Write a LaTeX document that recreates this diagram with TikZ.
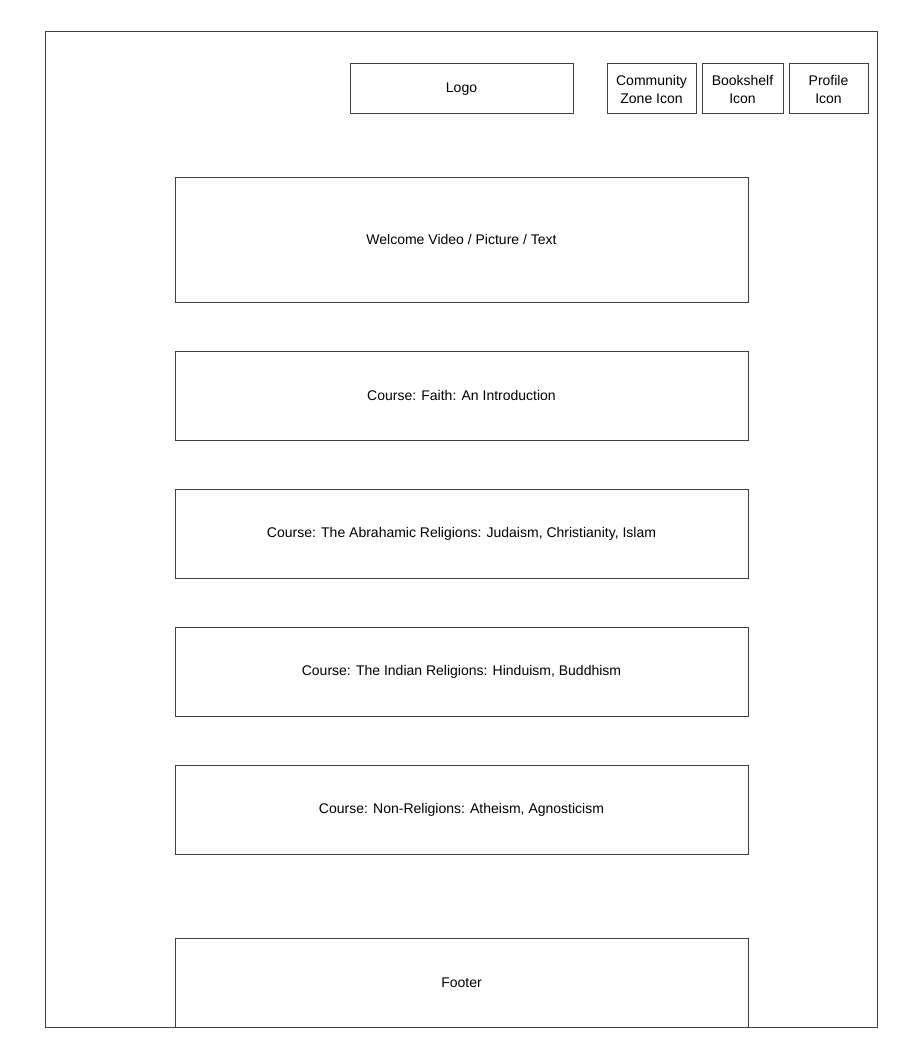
\documentclass[tikz,border=0pt]{standalone}
\usepackage{fontspec}
\setmainfont{Liberation Sans}
\usetikzlibrary{positioning}
\tikzset{
	frame/.style={draw=black!75,line width=1pt},
	box/.style={draw=black!75,line width=1pt,inner sep=0pt,outer sep=0pt,font=\fontsize{14}{18}\selectfont,align=center},
}
\begin{document}
\begin{tikzpicture}[x=1pt,y=-1pt]
	\useasboundingbox (0,0) rectangle (912,1054);
	%
	%  PAGE
	%
	\node[frame,minimum width=832,minimum height=996,anchor=north west] (page) at (45,31) {};
	%
	%  HEADER
	%
	\node[box,minimum width=223,minimum height=50,anchor=north west] (logo) at (350,64) {Logo};
	\node[box,minimum width=89,minimum height=50,anchor=north west] (zone) at (607,64) {Community\\Zone Icon};
	\node[box,minimum width=81,minimum height=50,right=6pt of zone] (shelf) {Bookshelf\\Icon};
	\node[box,minimum width=79,minimum height=50,right=6pt of shelf] (profile) {Profile\\Icon};
	%
	%  CONTENT
	%
	\node[box,minimum width=573,minimum height=125,anchor=north west] (welcome) at (175,177) {Welcome Video / Picture / Text};
	\node[box,minimum width=573,minimum height=89,below=49pt of welcome] (faith) {Course: Faith: An Introduction};
	\node[box,minimum width=573,minimum height=89,below=49pt of faith] (abraham) {Course: The Abrahamic Religions: Judaism, Christianity, Islam};
	\node[box,minimum width=573,minimum height=89,below=49pt of abraham] (indian) {Course: The Indian Religions: Hinduism, Buddhism};
	\node[box,minimum width=573,minimum height=89,below=49pt of indian] (nonrel) {Course: Non-Religions: Atheism, Agnosticism};
	%
	%  FOOTER
	%
	\node[box,minimum width=573,minimum height=89,anchor=south west] (footer) at (175,1027) {Footer};
\end{tikzpicture}
\end{document}
